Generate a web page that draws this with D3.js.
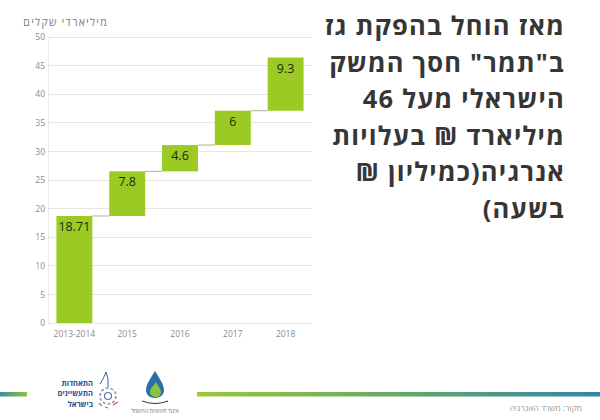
<!DOCTYPE html>
<html><head><meta charset="utf-8">
<script src="https://cdn.jsdelivr.net/npm/d3@7"></script>
<style>
body{margin:0;background:#fff;}
svg{display:block;font-family:"Open Sans","Noto Sans","DejaVu Sans",sans-serif;}
</style></head>
<body><svg id="c" width="600" height="420"></svg>
<script>
const categories = ["2013-2014","2015","2016","2017","2018"];
const values = [18.71,7.8,4.6,6,9.3];
const labels = ["18.71","7.8","4.6","6","9.3"];
const yTicks = [0,5,10,15,20,25,30,35,40,45,50];
const yTitle = "מיליארדי שקלים";
const titleLines = ["מאז הוחל בהפקת גז","ב\"תמר\" חסך המשק","הישראלי מעל 46","מיליארד ₪ בעלויות","אנרגיה(כמיליון ₪","בשעה)"];
const sourceText = "מקור: משרד האנרגיה";
const logoLines = ["התאחדות","התעשיינים","בישראל"];
const logo2Text = "איגוד תעשיות החשמל";

const svg = d3.select("#c");
const defs = svg.append("defs");

const x = d3.scaleBand().domain(categories).range([48,312]).paddingInner(0.32).paddingOuter(0.16);
const y = d3.scaleLinear().domain([0,50]).range([323,37]);

// gridlines
svg.append("g").selectAll("line").data(yTicks).join("line")
  .attr("x1",48).attr("x2",312)
  .attr("y1",d=>y(d)).attr("y2",d=>y(d))
  .attr("stroke","#e6e6e6").attr("stroke-width",1).attr("shape-rendering","crispEdges");
svg.append("line").attr("x1",48.5).attr("x2",48.5).attr("y1",y(50)).attr("y2",y(0))
  .attr("stroke","#ececec");

// y axis labels
const yAxis = svg.append("g").attr("transform","translate(45,0)")
  .call(d3.axisLeft(y).tickValues(yTicks).tickSize(0).tickPadding(0));
yAxis.select(".domain").remove();
yAxis.selectAll("text").attr("fill","#8a8a8a").attr("font-size",8.5).attr("font-family","Open Sans, sans-serif");

// x axis labels
const xAxis = svg.append("g").attr("transform","translate(0,329)")
  .call(d3.axisBottom(x).tickSize(0).tickPadding(2));
xAxis.select(".domain").remove();
xAxis.selectAll("text").attr("fill","#8a8a8a").attr("font-size",8.5).attr("font-family","Open Sans, sans-serif");

// y title
svg.append("text").attr("x",108).attr("y",26).attr("text-anchor","start")
  .attr("fill","#7a7a7a").attr("font-size",10.5).attr("letter-spacing",1.3).attr("direction","rtl").text(yTitle);

// waterfall data
let cum = 0;
const data = values.map((v,i)=>{const s=cum; cum+=v; return {cat:categories[i], start:s, end:cum, label:labels[i]};});

// connectors
svg.append("g").selectAll("line").data(data.slice(0,-1)).join("line")
  .attr("x1",(d,i)=>x(d.cat)+x.bandwidth())
  .attr("x2",(d,i)=>x(data[i+1].cat))
  .attr("y1",d=>y(d.end)).attr("y2",d=>y(d.end))
  .attr("stroke","#a9b58f").attr("stroke-width",1);

// bars
svg.append("g").selectAll("rect").data(data).join("rect")
  .attr("x",d=>x(d.cat)).attr("width",x.bandwidth())
  .attr("y",d=>y(d.end)).attr("height",d=>y(d.start)-y(d.end))
  .attr("fill","#9bca24");

svg.append("g").selectAll("text").data(data).join("text")
  .attr("x",d=>x(d.cat)+x.bandwidth()/2).attr("y",d=>y(d.end)+15)
  .attr("text-anchor","middle").attr("fill","#1f2a10").attr("font-size",12.5)
  .text(d=>d.label);

// title
svg.append("g").selectAll("text").data(titleLines).join("text")
  .attr("x",565).attr("y",(d,i)=>35+i*36.5)
  .attr("text-anchor","start").attr("direction","rtl")
  .attr("fill","#363636").attr("font-size",25.5).attr("font-weight","bold").attr("letter-spacing",1.2)
  .text(d=>d);

// bottom gradient lines
const g1 = defs.append("linearGradient").attr("id","gl");
g1.append("stop").attr("offset","0%").attr("stop-color","#3d8ea3");
g1.append("stop").attr("offset","100%").attr("stop-color","#8dc33f");
const g2 = defs.append("linearGradient").attr("id","gr");
g2.append("stop").attr("offset","0%").attr("stop-color","#9cc73a");
g2.append("stop").attr("offset","55%").attr("stop-color","#5fa66a");
g2.append("stop").attr("offset","100%").attr("stop-color","#3685a9");
svg.append("rect").attr("x",0).attr("y",392).attr("width",27).attr("height",4.5).attr("fill","url(#gl)");
svg.append("rect").attr("x",197).attr("y",392).attr("width",403).attr("height",4.5).attr("fill","url(#gr)");

// source
svg.append("text").attr("x",582).attr("y",411).attr("text-anchor","start").attr("direction","rtl")
  .attr("fill","#9a9a9a").attr("font-size",8.5).text(sourceText);

// logo 1 text
svg.append("g").selectAll("text").data(logoLines).join("text")
  .attr("x",93).attr("y",(d,i)=>386+i*10.4).attr("text-anchor","start").attr("direction","rtl")
  .attr("fill","#1f4e9a").attr("font-size",7.5).attr("font-weight","bold").text(d=>d);
// gear-like icon
const gear = svg.append("g").attr("transform","translate(108,396)");
gear.append("circle").attr("r",8).attr("fill","none").attr("stroke","#8a9cb8").attr("stroke-width",1.6).attr("stroke-dasharray","3,2");
gear.append("circle").attr("r",3.5).attr("fill","none").attr("stroke","#5a78a8").attr("stroke-width",1.2);
gear.append("path").attr("d","M0,-9 Q1,-18 -2,-24 M-2,-24 Q-4,-18 -8,-12").attr("fill","none").attr("stroke","#3d5f98").attr("stroke-width",1);
gear.append("path").attr("d","M-9,7 l3,3 M5,9 l5,-3 M-3,11 l3,1").attr("stroke","#e0603a").attr("stroke-width",1.3);

// logo 2: drop
const drop = svg.append("g").attr("transform","translate(155,390)");
drop.append("path").attr("d","M0,-19 C-4,-12 -9,-6 -9,0 C-9,5 -5,8 0,8 C5,8 9,5 9,0 C9,-6 4,-12 0,-19Z").attr("fill","#2a6fa8");
drop.append("path").attr("d","M1,-8 C-2,-4 -5,-1 -5,2 C-5,5 -2,7 1,7 C4,7 6,5 6,2 C6,-1 3,-4 1,-8Z").attr("fill","#8cc23e");
drop.append("path").attr("d","M-13,11 Q0,16 13,11").attr("fill","none").attr("stroke","#333").attr("stroke-width",1);
drop.append("text").attr("x",0).attr("y",23).attr("text-anchor","middle").attr("direction","rtl")
  .attr("fill","#777").attr("font-size",5.5).text(logo2Text);
</script></body></html>
